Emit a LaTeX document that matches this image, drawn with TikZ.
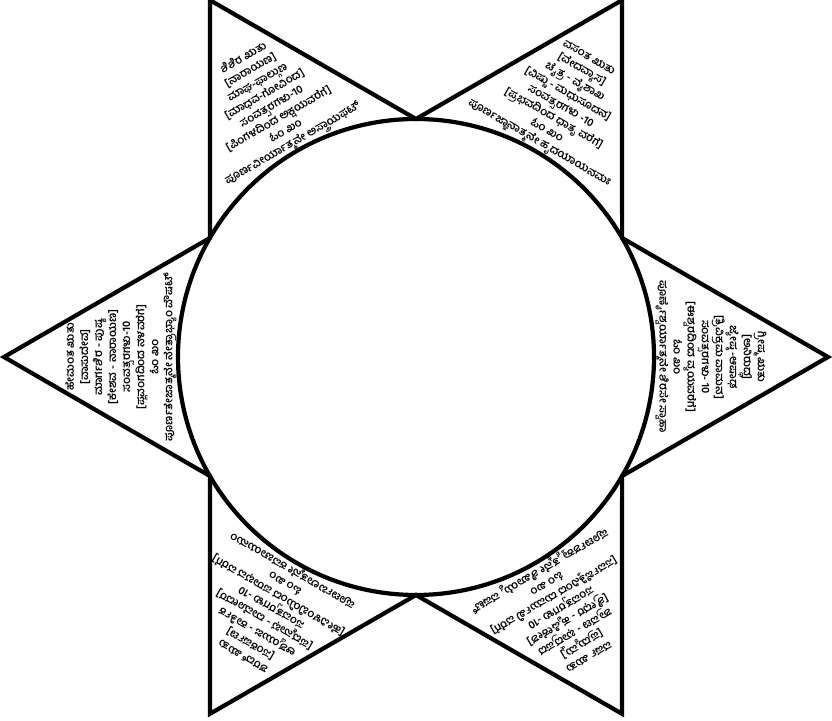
\documentclass[tikz,border=0pt]{standalone}
\usepackage{fontspec}
\newfontfamily\kannada[Script=Kannada]{Hind Mysuru}
\usetikzlibrary{calc}
\tikzset{
    starline/.style={line width=3.6pt, line join=miter, draw=black},
    rtutext/.style={font=\kannada\bfseries\fontsize{9.6}{12}\selectfont, align=center,
                    inner sep=0pt},
}

\begin{document}
\begin{tikzpicture}[x=0.03cm, y=0.03cm]
    \useasboundingbox (0,0) rectangle (832,720);
    \coordinate (c) at (416,363);
    % six points, inner corners sit on the circle
    \draw[starline] ($(c)+(-30:238)$)
        \foreach \a in {0,60,...,240} { -- ($(c)+(\a:412)$) -- ($(c)+(\a+30:238)$) }
        -- ($(c)+(300:412)$) -- cycle;
    \draw[starline] (c) circle (238);

    \node[rtutext, rotate=-30] (vasanta) at ($(c)+(60:295)$) {%
        ವಸಂತ ಋತು\\{}[ವೇದವ್ಯಾಸ]\\ಚೈತ್ರ - ವೈಶಾಖ\\{}[ವಿಷ್ಣು - ಮಧುಸೂದನ]\\
        ಸಂವತ್ಸರಗಳು -10\\{}[ಪ್ರಭವದಿಂದ ಧಾತೃ ವರೆಗೆ]\\ಓಂ ಖಂ\\
        ಪೂರ್ಣಜ್ಞಾನಾತ್ಮನೇ ಹೃದಯಾಯನಮಃ};
    \node[rtutext, rotate=-90] (grishma) at ($(c)+(0:295)$) {%
        ಗ್ರೀಷ್ಮ ಋತು\\{}[ಅನಿರುದ್ಧ]\\ಜ್ಯೇಷ್ಠ -ಆಷಾಢ\\{}[ತ್ರಿವಿಕ್ರಮ ವಾಮನ]\\
        ಸಂವತ್ಸರಗಳು- 10\\{}[ಈಶ್ವರದಿಂದ ವ್ಯಯವರೆಗೆ]\\ಓಂ ಖಂ\\
        ಪೂರ್ಣೈಶ್ವರ್ಯಾತ್ಮನೇ ಶಿರಸೇ ಸ್ವಾಹಾ};
    \node[rtutext, rotate=-150] (varsha) at ($(c)+(-60:295)$) {%
        ವರ್ಷ ಋತು\\{}[ಪ್ರದ್ಯುಮ್ನ]\\ಶ್ರಾವಣ - ಭಾದ್ರಪದ\\{}[ಶ್ರೀಧರ - ಹೃಷೀಕೇಶ]\\
        ಸಂವತ್ಸರಗಳು -10\\{}[ಸರ್ವಜಿತ್ತಿನಿಂದ ದುರ್ಮುಖಿ ವರೆಗೆ]\\ಓಂ ಖಂ\\
        ಪೂರ್ಣಶಕ್ತ್ಯಾತ್ಮನೇ ಶಿಖಾಯೈ ವಷಟ್};
    \node[rtutext, rotate=150] (sharad) at ($(c)+(240:295)$) {%
        ಶರದ್ ಋತು\\{}[ಸಂಕರ್ಷಣ]\\ಆಶ್ವಯುಜ - ಕಾರ್ತಿಕ\\{}[ಪದ್ಮನಾಭ - ದಾಮೋದರ]\\
        ಸಂವತ್ಸರಗಳು -10\\{}[ಹೇವಿಳಂಬಿಯಿಂದ ಪರಾಭವ ವರೆಗೆ]\\ಓಂ ಖಂ\\
        ಪೂರ್ಣಬಲಾತ್ಮನೇ ಕವಚಾಯಹುಂ};
    \node[rtutext, rotate=90] (hemanta) at ($(c)+(180:295)$) {%
        ಹೇಮಂತ ಋತು\\{}[ವಾಸುದೇವ]\\ಮಾರ್ಗಶಿರ - ಪುಷ್ಯ\\{}[ಕೇಶವ - ನಾರಾಯಣ]\\
        ಸಂವತ್ಸರಗಳು-10\\{}[ಪ್ಲವಂಗದಿಂದ ನಳವರೆಗೆ]\\ಓಂ ಖಂ\\
        ಪೂರ್ಣತೇಜಾತ್ಮನೇ ನೇತ್ರಾಭ್ಯಾಂ ವೌಷಟ್};
    \node[rtutext, rotate=30] (shishira) at ($(c)+(120:295)$) {%
        ಶಿಶಿರ ಋತು\\{}[ನಾರಾಯಣ]\\ಮಾಘ-ಫಾಲ್ಗುಣ\\{}[ಮಾಧವ-ಗೋವಿಂದ]\\
        ಸಂವತ್ಸರಗಳು-10\\{}[ಪಿಂಗಳದಿಂದ ಅಕ್ಷಯವರೆಗೆ]\\ಓಂ ಖಂ\\
        ಪೂರ್ಣವೀರ್ಯಾತ್ಮನೇ ಅಸ್ತ್ರಾಯಫಟ್};
\end{tikzpicture}
\end{document}
